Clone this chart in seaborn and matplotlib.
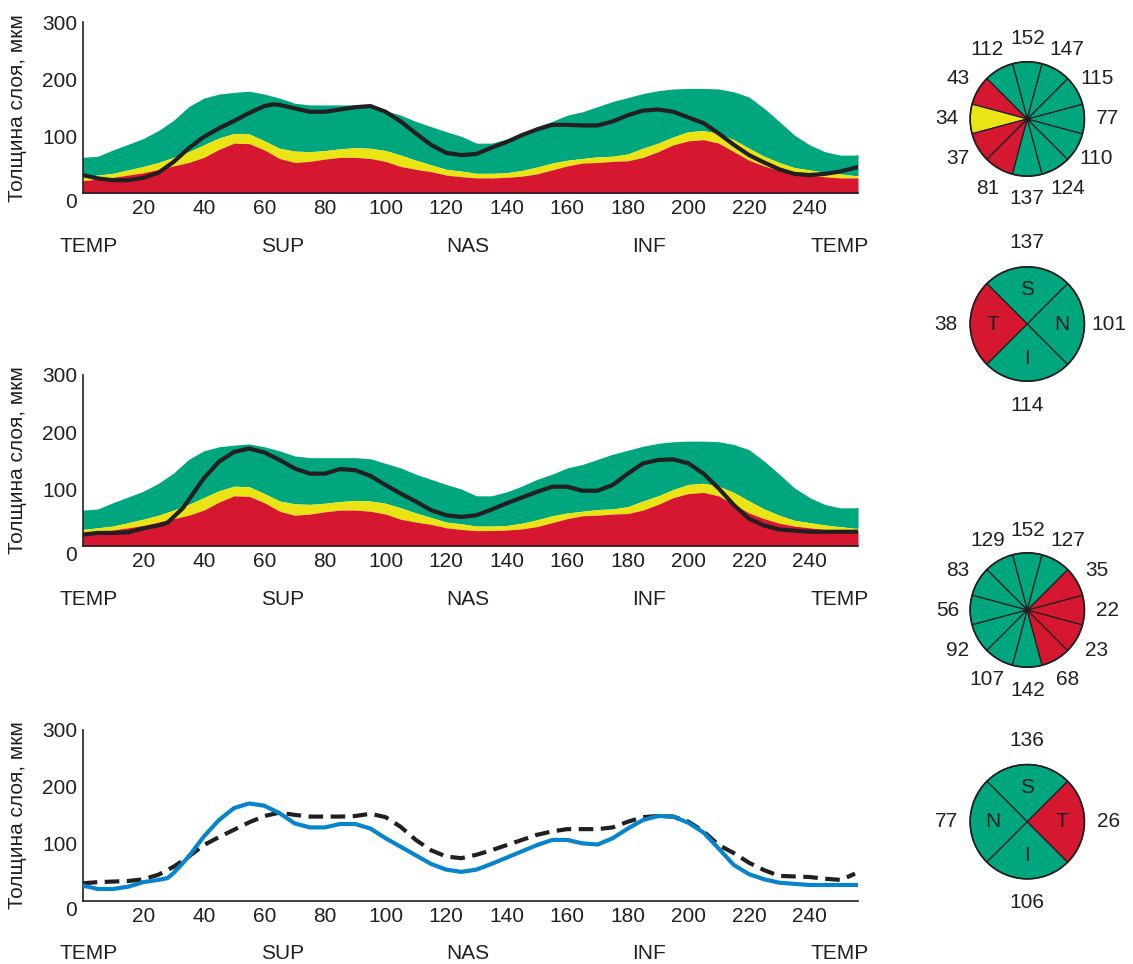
import numpy as np
import seaborn as sns
import matplotlib.pyplot as plt
from matplotlib.patches import Circle
from matplotlib.transforms import blended_transform_factory

# normative percentile bands (same in both upper panels)
band_pos = [0, 5, 10, 15, 20, 25, 30, 35, 40, 45, 50, 55, 60, 65, 70, 75, 80, 85, 90, 95,
            100, 105, 110, 115, 120, 125, 130, 135, 140, 145, 150, 155, 160, 165, 170, 175,
            180, 185, 190, 195, 200, 205, 210, 215, 220, 225, 230, 235, 240, 245, 250, 255, 256]
band_red = [22, 25, 28, 32, 36, 42, 48, 54, 63, 77, 88, 87, 76, 61, 54, 56, 60, 63, 63, 61,
            56, 47, 42, 38, 32, 29, 27, 27, 28, 30, 34, 41, 48, 53, 54, 56,
            57, 63, 73, 85, 92, 94, 88, 73, 58, 48, 40, 35, 32, 29, 27, 27, 27]
band_yellow = [29, 32, 35, 41, 47, 54, 63, 73, 85, 97, 105, 104, 92, 79, 74, 73, 75, 78, 80, 79,
               75, 67, 58, 50, 42, 39, 35, 35, 36, 40, 46, 53, 58, 61, 64, 65,
               69, 79, 88, 99, 108, 110, 105, 94, 79, 65, 54, 45, 41, 37, 34, 31, 31]
band_green = [63, 65, 76, 86, 96, 110, 128, 152, 167, 174, 177, 179, 174, 167, 158, 155, 155, 155, 155, 153,
              145, 137, 126, 117, 108, 100, 88, 88, 95, 105, 117, 126, 137, 143, 152, 161,
              168, 175, 180, 183, 184, 184, 183, 178, 169, 149, 126, 102, 85, 73, 67, 67, 68]

# right eye (OD) thickness profile
od_pos = [0, 5, 10, 15, 20, 25, 30, 35, 40, 45, 50, 55, 60, 63, 65, 70, 75, 80, 85, 90, 95,
          100, 105, 110, 115, 120, 125, 130, 135, 140, 145, 150, 155, 160, 165, 170, 175,
          180, 185, 190, 195, 200, 205, 210, 215, 220, 225, 230, 235, 240, 245, 250, 256]
od_thick = [32, 26, 23, 23, 27, 36, 55, 79, 99, 114, 127, 141, 153, 156, 155, 149, 143, 143, 147, 151, 153,
            143, 126, 105, 85, 71, 67, 69, 80, 90, 102, 112, 120, 120, 119, 119, 126,
            137, 145, 147, 143, 133, 123, 105, 85, 67, 54, 42, 34, 32, 34, 38, 46]

# left eye (OS) thickness profile
os_pos = [0, 5, 10, 15, 20, 25, 28, 30, 33, 35, 40, 45, 50, 55, 60, 65, 70, 75, 80, 85, 90, 95,
          100, 105, 110, 115, 120, 125, 130, 135, 140, 145, 150, 155, 160, 165, 170, 175,
          180, 185, 190, 195, 200, 205, 210, 215, 220, 225, 230, 235, 240, 250, 256]
os_thick = [20, 23, 23, 24, 31, 36, 41, 51, 66, 81, 119, 148, 165, 171, 164, 151, 136, 127, 127, 135, 133, 123,
            107, 92, 78, 63, 54, 51, 54, 64, 75, 85, 95, 104, 104, 97, 97, 107,
            127, 145, 151, 152, 145, 127, 101, 72, 48, 36, 29, 27, 25, 25, 25]

# comparison panel: OD (dashed) and OS (blue)
cmp_od_pos = [0, 5, 10, 15, 20, 25, 30, 35, 40, 45, 50, 55, 60, 65, 70, 75, 80, 85, 90, 95,
              100, 105, 110, 115, 120, 125, 130, 135, 140, 145, 150, 155, 160, 165, 170, 175,
              180, 185, 190, 195, 200, 205, 210, 215, 220, 225, 230, 235, 240, 245, 250, 253, 255]
cmp_od = [31, 33, 34, 35, 38, 46, 60, 78, 98, 112, 125, 138, 149, 155, 151, 148, 148, 148, 149, 153,
          147, 130, 107, 89, 78, 75, 81, 89, 98, 107, 116, 122, 126, 126, 126, 129,
          139, 147, 149, 148, 139, 122, 98, 84, 67, 54, 44, 43, 42, 39, 37, 43, 48]
cmp_os_pos = [0, 5, 10, 15, 20, 25, 28, 30, 33, 35, 40, 45, 50, 55, 60, 65, 70, 75, 80, 85, 90, 95,
              100, 105, 110, 115, 120, 125, 130, 135, 140, 145, 150, 155, 160, 165, 170, 175,
              180, 185, 190, 195, 200, 205, 210, 215, 220, 225, 230, 240, 250, 256]
cmp_os = [27, 21, 21, 25, 33, 37, 40, 49, 66, 78, 113, 142, 163, 171, 167, 154, 136, 129, 129, 135, 135, 127,
          110, 95, 80, 65, 55, 51, 55, 65, 76, 87, 98, 107, 107, 101, 99, 110,
          127, 142, 149, 148, 137, 120, 92, 63, 47, 38, 32, 28, 28, 28]

xticks = [20, 40, 60, 80, 100, 120, 140, 160, 180, 200, 220, 240]
yticks = [0, 100, 200, 300]
regions = ['TEMP', 'SUP', 'NAS', 'INF', 'TEMP']
region_pos = [2, 66, 127, 187, 250]

# clock-hour sectors, counterclockwise starting at 12 o'clock
clock_od = [152, 112, 43, 34, 37, 81, 137, 124, 110, 77, 115, 147]
clock_od_cls = ['g', 'g', 'r', 'y', 'r', 'r', 'g', 'g', 'g', 'g', 'g', 'g']
clock_os = [152, 129, 83, 56, 92, 107, 142, 68, 23, 22, 35, 127]
clock_os_cls = ['g', 'g', 'g', 'g', 'g', 'g', 'g', 'r', 'r', 'r', 'r', 'g']
# quadrants: top, left, bottom, right
quad_od = [137, 38, 114, 101]
quad_od_names = ['S', 'T', 'I', 'N']
quad_od_cls = ['g', 'r', 'g', 'g']
quad_os = [136, 77, 106, 26]
quad_os_names = ['S', 'N', 'I', 'T']
quad_os_cls = ['g', 'g', 'g', 'r']

GREEN = '#00a67e'
RED = '#d5182f'
YELLOW = '#ebe414'
BLUE = '#0884cc'
INK = '#231f20'
palette = {'g': GREEN, 'r': RED, 'y': YELLOW}

sns.set_theme(style="white")
plt.rcParams['font.family'] = ['Liberation Sans', 'DejaVu Sans']
FS = 15

fig = plt.figure(figsize=(11.33, 9.64), dpi=100)

def profile_axes(bottom):
    ax = fig.add_axes([0.0730, bottom, 0.6843, 0.1774])
    ax.set_xlim(0, 256)
    ax.set_ylim(0, 300)
    ax.set_xticks(xticks)
    ax.set_yticks(yticks)
    ax.tick_params(axis='both', direction='in', length=8, width=1.2, color=INK,
                   labelsize=FS, labelcolor=INK)
    ax.tick_params(axis='x', pad=4)
    ax.tick_params(axis='y', pad=4)
    ax.get_yticklabels()[0].set_verticalalignment('top')
    sns.despine(ax=ax)
    for s in ['left', 'bottom']:
        ax.spines[s].set_color(INK)
        ax.spines[s].set_linewidth(1.2)
    ax.set_ylabel('Толщина слоя, мкм', fontsize=15, color=INK)
    ax.yaxis.set_label_coords(-0.072, 0.5)
    ax.set_xlabel('')
    trans = blended_transform_factory(ax.transData, ax.transAxes)
    for name, p in zip(regions, region_pos):
        ax.text(p, -0.31, name, transform=trans, ha='center', va='center',
                fontsize=FS, color=INK)
    return ax

def bands(ax):
    ax.fill_between(band_pos, band_yellow, band_green, color=GREEN, lw=0, zorder=1)
    ax.fill_between(band_pos, band_red, band_yellow, color=YELLOW, lw=0, zorder=1)
    ax.fill_between(band_pos, 0, band_red, color=RED, lw=0, zorder=1)

ax1 = profile_axes(0.7995)
bands(ax1)
sns.lineplot(x=od_pos, y=od_thick, ax=ax1, color=INK, lw=3, zorder=3)

ax2 = profile_axes(0.4336)
bands(ax2)
sns.lineplot(x=os_pos, y=os_thick, ax=ax2, color=INK, lw=3, zorder=3)

ax3 = profile_axes(0.0654)
sns.lineplot(x=cmp_od_pos, y=cmp_od, ax=ax3, color=INK, lw=3, linestyle=(0, (3.5, 1.8)), zorder=3)
sns.lineplot(x=cmp_os_pos, y=cmp_os, ax=ax3, color=BLUE, lw=3, zorder=4)

def dial(cy, values, cls, names=None, lab_r=1.4):
    box = 200 / 1133
    ax = fig.add_axes([0.9067 - box / 2, cy - (200 / 964) / 2, box, 200 / 964])
    ax.set_aspect('equal')
    ax.axis('off')
    n = len(values)
    step = 360 / n
    ax.pie([1] * n, colors=[palette[c] for c in cls], startangle=90 - step / 2,
           counterclock=True, radius=1,
           wedgeprops=dict(edgecolor=INK, linewidth=0.9))
    ax.add_patch(Circle((0, 0), 1, fill=False, ec=INK, lw=1.2, zorder=5))
    ax.set_xlim(-1.75, 1.75)
    ax.set_ylim(-1.75, 1.75)
    for k, v in enumerate(values):
        a = np.deg2rad(90 + step * k)
        ax.text(lab_r * np.cos(a), lab_r * np.sin(a), str(v), ha='center', va='center',
                fontsize=FS, color=INK)
        if names is not None:
            ax.text(0.6 * np.cos(a), 0.6 * np.sin(a), names[k], ha='center', va='center',
                    fontsize=FS, color=INK, zorder=6)
    if names is None:
        ax.plot(0, 0, 'o', color=INK, ms=3, zorder=6)

dial(0.8766, clock_od, clock_od_cls)
dial(0.6639, quad_od, quad_od_cls, quad_od_names, lab_r=1.42)
dial(0.3672, clock_os, clock_os_cls)
dial(0.1476, quad_os, quad_os_cls, quad_os_names, lab_r=1.42)

fig.savefig('out.png', dpi=100)
